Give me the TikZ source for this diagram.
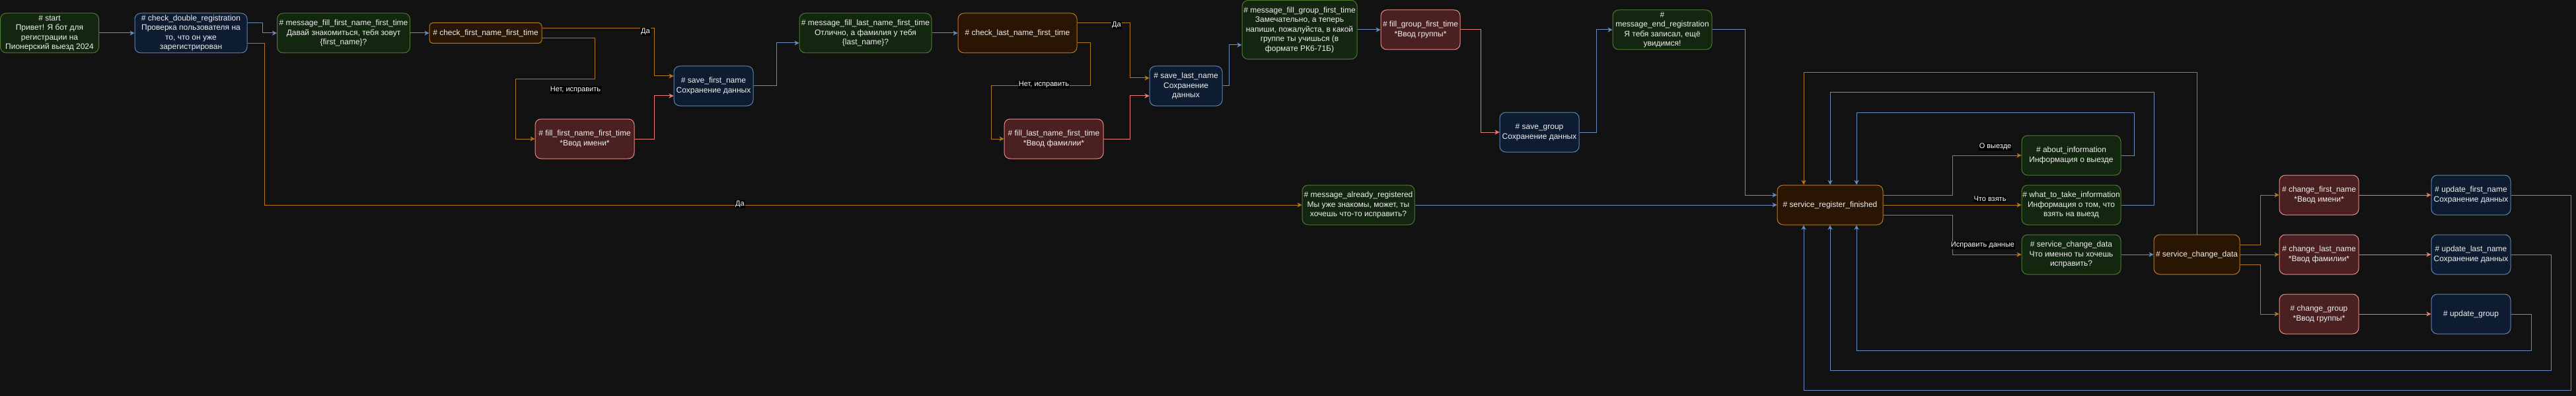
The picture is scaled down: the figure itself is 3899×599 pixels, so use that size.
\documentclass[tikz,border=0pt]{standalone}
\usepackage{fontspec}
\setmainfont{Liberation Sans}
\usetikzlibrary{arrows.meta}
\definecolor{bgcol}{HTML}{121212}
\definecolor{msgfill}{HTML}{132610}
\definecolor{msgdraw}{HTML}{4E7A30}
\definecolor{savefill}{HTML}{0D1C31}
\definecolor{savedraw}{HTML}{6282B0}
\definecolor{chkfill}{HTML}{2A1503}
\definecolor{chkdraw}{HTML}{B87A24}
\definecolor{fillfill}{HTML}{4A2020}
\definecolor{filldraw}{HTML}{E68C86}
\definecolor{blueline}{HTML}{6A8CBC}
\definecolor{orangeline}{HTML}{B4781E}
\definecolor{pinkline}{HTML}{EA7E78}

\begin{document}
\begin{tikzpicture}[x=1pt, y=-1pt, >={Stealth[length=7pt,width=7pt,inset=2pt]}]
      \tikzstyle{box} = [rectangle, rounded corners=9pt, minimum width=150pt, minimum height=60pt, inner sep=0pt, align=center, text=white!94!black, line width=1pt, font=\fontsize{12}{14.5}\selectfont]
      \tikzstyle{msg} = [box, fill=msgfill, draw=msgdraw]
      \tikzstyle{save} = [box, fill=savefill, draw=savedraw, minimum width=120pt]
      \tikzstyle{check} = [box, fill=chkfill, draw=chkdraw]
      \tikzstyle{input} = [box, fill=fillfill, draw=filldraw]
      \tikzstyle{barrow} = [->, line width=1pt, draw=blueline]
      \tikzstyle{oarrow} = [->, line width=1pt, draw=orangeline]
      \tikzstyle{parrow} = [->, line width=1pt, draw=pinkline]
      \tikzstyle{lbl} = [fill=black, text=white, inner sep=1pt, font=\fontsize{11}{12}\selectfont]

      \fill [bgcol] (0,0) rectangle (3899,599);
      \useasboundingbox (0,0) rectangle (3899,599);

      \node (start) [msg, minimum width=149pt] at (75,50) {\# start\\Привет! Я бот для\\регистрации на\\Пионерский выезд 2024};
      \node (dbl) [save, minimum width=170pt] at (289,50) {\# check\_double\_registration\\Проверка пользователя на\\то, что он уже\\зарегистрирован};
      \node (msgfirst) [msg, minimum width=201pt] at (520,50) {\# message\_fill\_first\_name\_first\_time\\Давай знакомиться, тебя зовут\\\{first\_name\}?};
      \node (chkfirst) [check, minimum width=170pt, minimum height=31pt, rounded corners=5pt] at (735,50) {\# check\_first\_name\_first\_time};

      \draw [barrow] (start.east) -- (dbl.west);
      \draw [barrow] ([yshift=15pt]dbl.east) -| (397,50) -- (msgfirst.west);
      \draw [barrow] (msgfirst.east) -- (chkfirst.west);

      \node (savefirst) [save] at (1080,130) {\# save\_first\_name\\Сохранение данных};
      \node (fillfirst) [input] at (885,210) {\# fill\_first\_name\_first\_time\\*Ввод имени*};

      \draw [oarrow] ([yshift=7pt]chkfirst.east) -| (990,115) -- ([yshift=15pt]savefirst.west);
      \node (yes1) [lbl] at (977,48) {Да};
      \draw [oarrow] ([yshift=-8pt]chkfirst.east) -| (900,120) -| (780,210) -- (fillfirst.west);
      \node (no1) [lbl] at (871,136) {Нет, исправить};
      \draw [parrow] (fillfirst.east) -| (990,145) -- ([yshift=-15pt]savefirst.west);

      \node (msglast) [msg, minimum width=200pt] at (1310,50) {\# message\_fill\_last\_name\_first\_time\\Отлично, а фамилия у тебя\\\{last\_name\}?};
      \node (chklast) [check, minimum width=180pt] at (1540,50) {\# check\_last\_name\_first\_time};
      \node (savelast) [save, minimum width=110pt] at (1795,130) {\# save\_last\_name\\Сохранение\\данных};
      \node (filllast) [input] at (1595,210) {\# fill\_last\_name\_first\_time\\*Ввод фамилии*};

      \draw [barrow] (savefirst.east) -| (1175,65) -- ([yshift=-15pt]msglast.west);
      \draw [barrow] (msglast.east) -- (chklast.west);
      \draw [oarrow] ([yshift=15pt]chklast.east) -| (1710,118) -- ([yshift=12pt]savelast.west);
      \node (yes2) [lbl] at (1690,38) {Да};
      \draw [oarrow] ([yshift=-15pt]chklast.east) -| (1650,130) -| (1500,210) -- (filllast.west);
      \node (no2) [lbl] at (1580,128) {Нет, исправить};
      \draw [parrow] (filllast.east) -| (1710,145) -- ([yshift=-15pt]savelast.west);

      \node (msggroup) [msg, minimum width=174pt, minimum height=89pt] at (1967,45) {\# message\_fill\_group\_first\_time\\Замечательно, а теперь\\напиши, пожалуйста, в какой\\группе ты учишься (в\\формате РК6-71Б)};
      \node (fillgroup) [input, minimum width=120pt] at (2150,45) {\# fill\_group\_first\_time\\*Ввод группы*};
      \node (savegroup) [save] at (2330,200) {\# save\_group\\Сохранение данных};
      \node (msgend) [msg] at (2516,45) {\#\\message\_end\_registration\\Я тебя записал, ещё\\увидимся!};

      \draw [barrow] (savelast.east) -| (1860,68) -- ([yshift=-23pt]msggroup.west);
      \draw [barrow] (msggroup.east) -- (fillgroup.west);
      \draw [parrow] (fillgroup.east) -| (2241,200) -- (savegroup.west);
      \draw [barrow] (savegroup.east) -| (2416,45) -- (msgend.west);

      \node (msgalready) [msg, minimum width=170pt] at (2056,310) {\# message\_already\_registered\\Мы уже знакомы, может, ты\\хочешь что-то исправить?};
      \node (srvreg) [check, minimum width=160pt] at (2770,310) {\# service\_register\_finished};

      \draw [oarrow] ([yshift=-16pt]dbl.east) -| (400,310) -- (msgalready.west);
      \node (yes3) [lbl] at (1120,309) {Да};
      \draw [barrow] (msgalready.east) -- (srvreg.west);
      \draw [barrow] (msgend.east) -| (2641,295) -- ([yshift=15pt]srvreg.west);

      \node (about) [msg] at (3135,235) {\# about\_information\\Информация о выезде};
      \node (whattake) [msg] at (3135,310) {\# what\_to\_take\_information\\Информация о том, что\\взять на выезд};
      \node (msgchange) [msg] at (3135,385) {\# service\_change\_data\\Что именно ты хочешь\\исправить?};
      \node (srvchange) [check, minimum width=130pt] at (3325,385) {\# service\_change\_data};

      \draw [oarrow] ([yshift=15pt]srvreg.east) -| (2955,235) -- (about.west);
      \node (lblabout) [lbl] at (3020,222) {О выезде};
      \draw [oarrow] (srvreg.east) -- (whattake.west);
      \node (lbltake) [lbl] at (3012,301) {Что взять};
      \draw [oarrow] ([yshift=-15pt]srvreg.east) -| (2955,385) -- (msgchange.west);
      \node (lblchange) [lbl] at (3001,371) {Исправить данные};
      \draw [barrow] (msgchange.east) -- (srvchange.west);

      \draw [barrow] (about.east) -| (3230,170) -| ([xshift=40pt]srvreg.north);
      \draw [barrow] (whattake.east) -| (3260,140) -| (srvreg.north);
      \draw [oarrow] (srvchange.north) |- (2730,110) -- ([xshift=-40pt]srvreg.north);

      \node (chgfirst) [input, minimum width=120pt] at (3510,295) {\# change\_first\_name\\*Ввод имени*};
      \node (chglast) [input, minimum width=120pt] at (3510,385) {\# change\_last\_name\\*Ввод фамилии*};
      \node (chggroup) [input, minimum width=120pt] at (3510,475) {\# change\_group\\*Ввод группы*};
      \node (updfirst) [save] at (3740,295) {\# update\_first\_name\\Сохранение данных};
      \node (updlast) [save] at (3740,385) {\# update\_last\_name\\Сохранение данных};
      \node (updgroup) [save] at (3740,475) {\# update\_group};

      \draw [oarrow] ([yshift=15pt]srvchange.east) -| (3421,295) -- (chgfirst.west);
      \draw [oarrow] (srvchange.east) -- (chglast.west);
      \draw [oarrow] ([yshift=-15pt]srvchange.east) -| (3421,475) -- (chggroup.west);
      \draw [parrow] (chgfirst.east) -- (updfirst.west);
      \draw [parrow] (chglast.east) -- (updlast.west);
      \draw [parrow] (chggroup.east) -- (updgroup.west);

      \draw [barrow] (updfirst.east) -| (3891,590) -| ([xshift=-40pt]srvreg.south);
      \draw [barrow] (updlast.east) -| (3861,560) -| (srvreg.south);
      \draw [barrow] (updgroup.east) -| (3831,530) -| ([xshift=40pt]srvreg.south);

    \end{tikzpicture}
\end{document}
